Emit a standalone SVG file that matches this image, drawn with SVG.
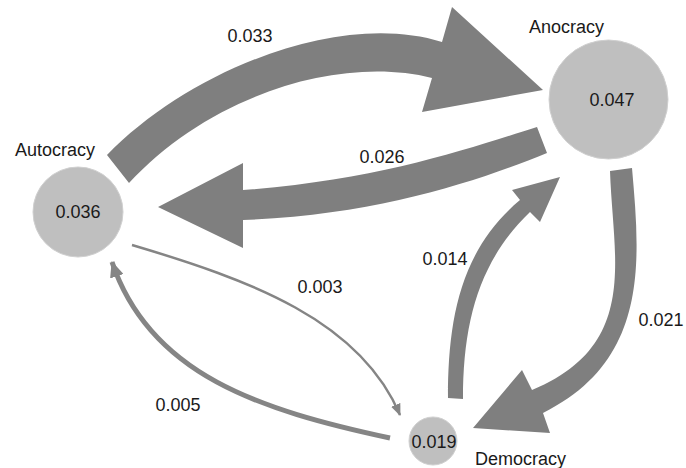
<svg xmlns="http://www.w3.org/2000/svg" width="686" height="468" viewBox="0 0 686 468">
<style>
.node{fill:#bfbfbf;stroke:#d0d0d0;stroke-width:1}
.t{font-family:"Liberation Sans",Arial,sans-serif;font-size:18px;fill:#1a1a1a}
.m{text-anchor:middle}
.band{fill:#7f7f7f}
.thin{fill:none;stroke:#858585}
</style>
<defs>
<marker id="h3" markerUnits="userSpaceOnUse" markerWidth="12" markerHeight="10" refX="11" refY="5" orient="auto"><path d="M0,0 L12,5 L0,10 Z" fill="#858585"/></marker>
<marker id="h5" markerUnits="userSpaceOnUse" markerWidth="16" markerHeight="14" refX="15" refY="7" orient="auto"><path d="M0,0 L16,7 L0,14 Z" fill="#858585"/></marker>
</defs>
<g id="connectors">
<path class="band" d="M107,155 C190,70 340,10 442,42 L452,7 L543,90 L422,112 L432,78 C340,55 210,95 129,183 Z"/>
<path class="band" d="M537,127 C470,148 380,180 243,190 L243,163 L158,207 L243,248 L243,220 C380,215 480,180 547,153 Z"/>
<path class="band" d="M448,398 C448,320 460,250 520,200 L512,190 L560,177 L540,222 L530,212 C480,260 463,320 463,399 Z"/>
<path class="band" d="M610,171 C613,260 640,345 532,390 L522,370 L473,428 L550,433 L543,413 C650,360 640,260 632,168 Z"/>
<path class="thin" stroke-width="2.5" d="M132,245 C250,280 360,320 400,415" marker-end="url(#h3)"/>
<path class="thin" stroke-width="5" d="M390,438 C260,410 150,375 112,262" marker-end="url(#h5)"/>
<text class="t m" x="250" y="42">0.033</text>
<text class="t m" x="382" y="163">0.026</text>
<text class="t m" x="445" y="265">0.014</text>
<text class="t m" x="320" y="293">0.003</text>
<text class="t m" x="661" y="326">0.021</text>
<text class="t m" x="178" y="411">0.005</text>
</g>
<g id="autocracy">
<circle class="node" cx="78" cy="212" r="45"/>
<text class="t m" x="78" y="218">0.036</text>
<text class="t" x="15" y="156">Autocracy</text>
</g>
<g id="anocracy">
<circle class="node" cx="608.5" cy="99.5" r="59.5"/>
<text class="t m" x="612" y="106">0.047</text>
<text class="t" x="529" y="33">Anocracy</text>
</g>
<g id="democracy">
<circle class="node" cx="433" cy="441" r="24"/>
<text class="t m" x="434" y="448">0.019</text>
<text class="t" x="475" y="465">Democracy</text>
</g>
</svg>
